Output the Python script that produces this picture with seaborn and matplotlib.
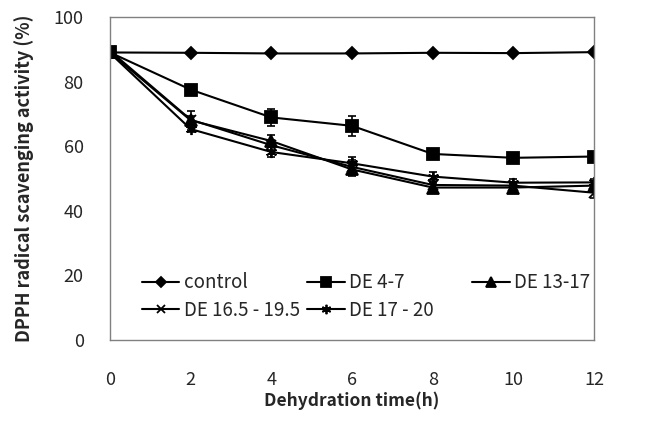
import numpy as np
import matplotlib
matplotlib.use("Agg")
import matplotlib.pyplot as plt
import seaborn as sns

# Data
time_h = [0, 2, 4, 6, 8, 10, 12]

control = [89.0, 88.9, 88.7, 88.7, 88.9, 88.8, 89.1]
de_4_7 = [89.0, 77.5, 68.9, 66.3, 57.6, 56.4, 56.8]
de_13_17 = [89.0, 68.0, 61.6, 52.8, 47.2, 47.2, 47.8]
de_165_195 = [89.5, 68.2, 60.3, 53.6, 48.0, 47.8, 45.6]
de_17_20 = [88.8, 65.3, 58.2, 54.7, 50.6, 48.7, 48.8]

err_control = [0.5, 0.4, 0.4, 0.4, 0.4, 0.4, 0.4]
err_4_7 = [1.0, 1.0, 2.5, 3.0, 1.5, 1.0, 1.0]
err_13_17 = [1.0, 3.0, 2.0, 2.0, 1.0, 1.0, 1.0]
err_165_195 = [1.0, 1.0, 1.5, 2.0, 1.0, 1.0, 1.5]
err_17_20 = [1.0, 1.0, 1.5, 2.0, 1.5, 1.0, 1.0]

labels = ["control", "DE 4-7", "DE 13-17", "DE 16.5 - 19.5", "DE 17 - 20"]

sns.set_style("white")
plt.rcParams['font.family'] = ['Noto Sans CJK KR', 'DejaVu Sans']

fig = plt.figure(figsize=(6.51, 4.23), dpi=100)
ax = fig.add_axes([0.169, 0.196, 0.7435, 0.764])

series = [
    (control, err_control, "D", 6),
    (de_4_7, err_4_7, "s", 8),
    (de_13_17, err_13_17, "^", 8),
    (de_165_195, err_165_195, "x", 7),
    (de_17_20, err_17_20, (6, 2, 0), 8),
]

for (vals, err, mk, ms), lab in zip(series, labels):
    ax.errorbar(time_h, vals, yerr=err, fmt="none", ecolor="black",
                elinewidth=1.2, capsize=3, capthick=1.2)
    sns.lineplot(x=time_h, y=vals, ax=ax, color="black", marker=mk,
                 markersize=ms, markeredgecolor="black", markeredgewidth=1.3,
                 linewidth=1.5, label=lab, legend=False)

ax.set_xlim(0, 12)
ax.set_ylim(0, 100)
ax.set_xticks(range(0, 13, 2))
ax.set_yticks(range(0, 101, 20))
ax.tick_params(direction="in", length=5, color="#808080", labelsize=13)
ax.tick_params(axis="x", pad=22)
ax.tick_params(axis="y", pad=19)
for sp in ax.spines.values():
    sp.set_color("#808080")
    sp.set_linewidth(1.0)

ax.set_xlabel("Dehydration time(h)", fontsize=12.5, fontweight="bold", labelpad=2)
ax.set_ylabel("DPPH radical scavenging activity (%)", fontsize=13,
              fontweight="bold", labelpad=14)

# legend laid out in three equal-width columns, like the original
hmap = {h.get_label(): h for h in ax.get_lines()}
columns = [["control", "DE 16.5 - 19.5"], ["DE 4-7", "DE 17 - 20"], ["DE 13-17"]]
col_x = [0.066, 0.407, 0.748]
legends = []
for names, cx in zip(columns, col_x):
    leg = ax.legend([hmap[n] for n in names], names, loc="upper left",
                    bbox_to_anchor=(cx, 0.21), frameon=False, fontsize=13.5,
                    handlelength=2.0, handletextpad=0.25, labelspacing=0.35,
                    borderpad=0, borderaxespad=0, markerscale=0.85)
    legends.append(leg)
for leg in legends[:-1]:
    ax.add_artist(leg)

fig.savefig("out.png", dpi=100)
